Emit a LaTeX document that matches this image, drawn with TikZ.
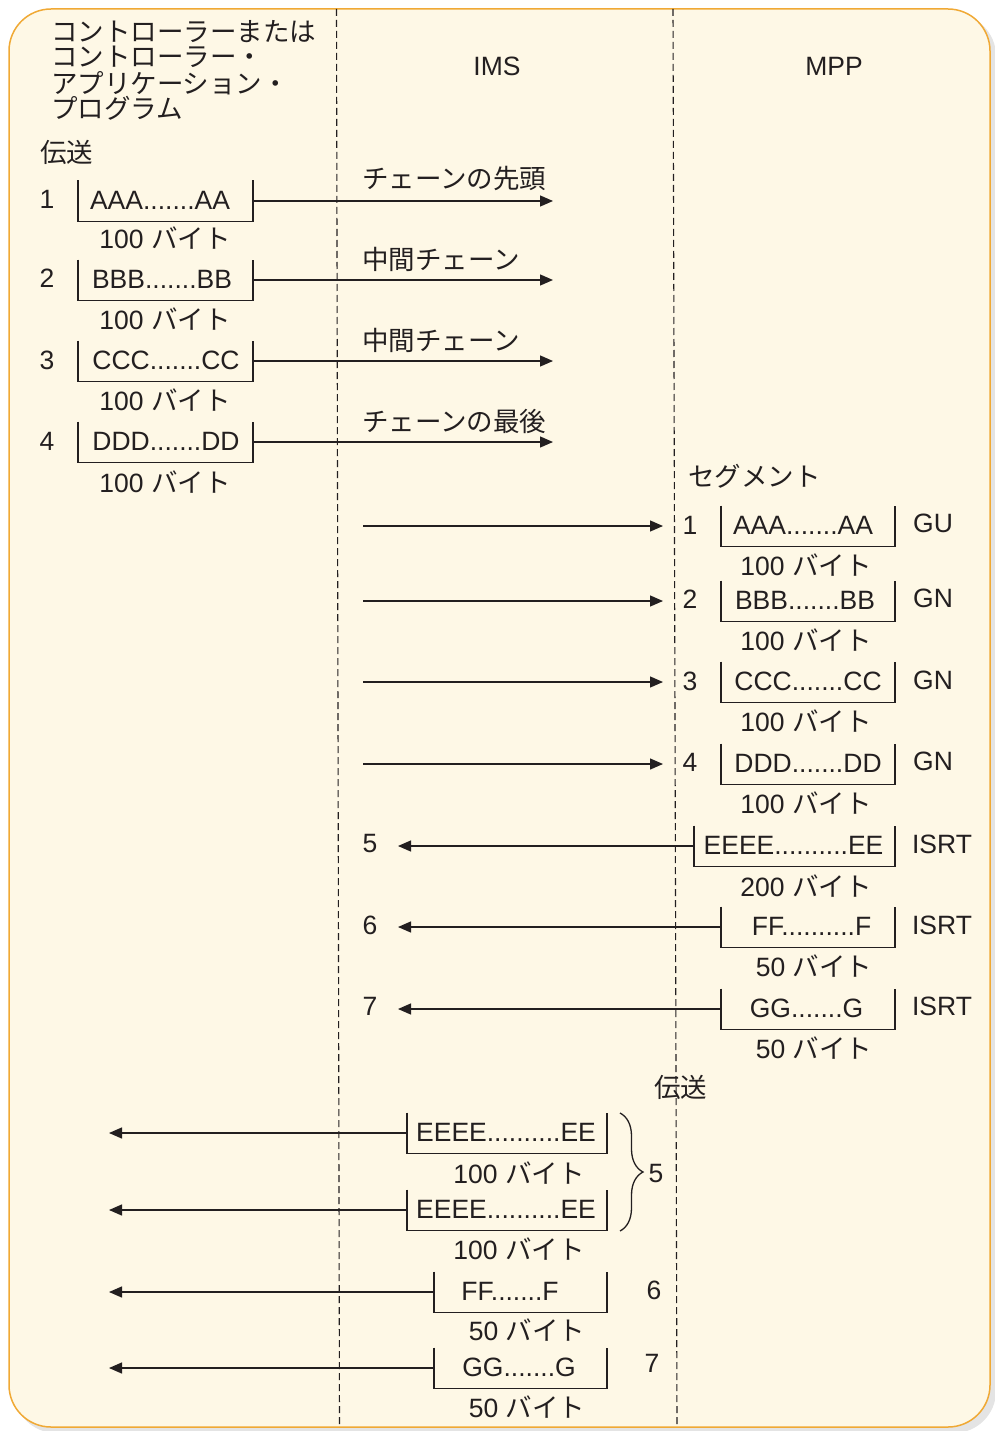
\documentclass[tikz,border=0pt]{standalone}
\usepackage{fontspec}
\setmainfont{Liberation Sans}
\newfontfamily\jp{Noto Sans CJK JP}
\usetikzlibrary{arrows.meta,decorations.pathreplacing}
\definecolor{bgfill}{HTML}{FEF8E6}
\definecolor{bgline}{HTML}{F0A935}
\definecolor{shadowc}{HTML}{E4E4E4}
\definecolor{ink}{HTML}{231F20}
\newcommand\drawseg[6]{%
  \node[segbox, minimum width={#3-#2}] (#1) at ({(#2+#3)/2},#4) {};
  \draw[bracket] (#1.north west) -- (#1.south west) -- (#1.south east) -- (#1.north east);
  \node (#1t) at (#6,#4-1) {#5};
}
\begin{document}
\begin{tikzpicture}[x=1pt,y=-1pt,
  every node/.style={font=\fontsize{26.5}{30}\selectfont, text=ink, inner sep=0pt, outer sep=0pt},
  jptext/.style={font=\fontsize{26.5}{30}\selectfont\jp},
  segbox/.style={draw=none, minimum height=41pt, inner sep=0pt, outer sep=0pt},
  bracket/.style={draw=ink, line width=1.3pt},
  arr/.style={draw=ink, line width=1.3pt, -{Triangle[length=13pt,width=11pt]}},
  lifeline/.style={draw=ink, line width=1.1pt, dash pattern=on 7pt off 4pt},
  bracestyle/.style={draw=ink, line width=1.3pt, decorate, decoration={brace, amplitude=23pt}},
]
\useasboundingbox (0,0) rectangle (994,1431);
% background
\fill[shadowc, rounded corners=42pt] (14,14) rectangle (996,1433);
\draw[bgline, fill=bgfill, line width=1.5pt, rounded corners=42pt] (9,9) rectangle (990,1427);
% lifelines
\coordinate (d1t) at (336.5,9);
\coordinate (d1b) at (339.5,1427);
\coordinate (d2t) at (673,9);
\coordinate (d2b) at (677,1427);
\draw[lifeline] (d1t) -- (d1b);
\draw[lifeline] (d2t) -- (d2b);
% headers
\node[jptext, anchor=west] (h1) at (51,32) {コントローラーまたは};
\node[jptext, anchor=west] (h2) at (51,57) {コントローラー・};
\node[jptext, anchor=west] (h3) at (51,83) {アプリケーション・};
\node[jptext, anchor=west] (h4) at (51,108) {プログラム};
\node (ims) at (497,66) {IMS};
\node (mpp) at (834,66) {MPP};
\node[jptext, anchor=west] (send1) at (40,152) {伝送};
% left column
\drawseg{L1}{78}{253}{201}{AAA.......AA}{160}
\node (n1) at (47,199) {1};
\node (s1) at (165,238) {100 {\jp バイト}};
\coordinate (L1e) at (553,201);
\draw[arr] (L1.east) -- (L1e);
\node[jptext, anchor=west] (c1) at (362,178) {チェーンの先頭};

\drawseg{L2}{78}{253}{280}{BBB.......BB}{162}
\node (n2) at (47,278) {2};
\node (s2) at (165,319) {100 {\jp バイト}};
\coordinate (L2e) at (553,280);
\draw[arr] (L2.east) -- (L2e);
\node[jptext, anchor=west] (c2) at (362,259) {中間チェーン};

\drawseg{L3}{78}{253}{361}{CCC.......CC}{166}
\node (n3) at (47,360) {3};
\node (s3) at (165,400) {100 {\jp バイト}};
\coordinate (L3e) at (553,361);
\draw[arr] (L3.east) -- (L3e);
\node[jptext, anchor=west] (c3) at (362,340) {中間チェーン};

\drawseg{L4}{78}{253}{442}{DDD.......DD}{166}
\node (n4) at (47,441) {4};
\node (s4) at (165,482) {100 {\jp バイト}};
\coordinate (L4e) at (553,442);
\draw[arr] (L4.east) -- (L4e);
\node[jptext, anchor=west] (c4) at (362,421) {チェーンの最後};

% MPP segments
\node[jptext, anchor=west] (segl) at (688,476) {セグメント};

\drawseg{M1}{721}{895}{526}{AAA.......AA}{803}
\node (m1n) at (690,525) {1};
\node (m1s) at (806,565) {100 {\jp バイト}};
\node (m1c) at (933,523) {GU};
\coordinate (M1s) at (363,526);
\coordinate (M1e) at (663,526);
\draw[arr] (M1s) -- (M1e);

\drawseg{M2}{721}{895}{601}{BBB.......BB}{805}
\node (m2n) at (690,599.5) {2};
\node (m2s) at (806,640) {100 {\jp バイト}};
\node (m2c) at (933,598) {GN};
\coordinate (M2s) at (363,601);
\coordinate (M2e) at (663,601);
\draw[arr] (M2s) -- (M2e);

\drawseg{M3}{721}{895}{682}{CCC.......CC}{808}
\node (m3n) at (690,681) {3};
\node (m3s) at (806,721) {100 {\jp バイト}};
\node (m3c) at (933,680) {GN};
\coordinate (M3s) at (363,682);
\coordinate (M3e) at (663,682);
\draw[arr] (M3s) -- (M3e);

\drawseg{M4}{721}{895}{764}{DDD.......DD}{808}
\node (m4n) at (690,762.5) {4};
\node (m4s) at (806,803) {100 {\jp バイト}};
\node (m4c) at (933,761) {GN};
\coordinate (M4s) at (363,764);
\coordinate (M4e) at (663,764);
\draw[arr] (M4s) -- (M4e);

% ISRT
\drawseg{I5}{694}{895}{846}{EEEE..........EE}{793.5}
\node (i5n) at (370,844) {5};
\node (i5s) at (806,886) {200 {\jp バイト}};
\node (i5c) at (942,844) {ISRT};
\coordinate (I5e) at (398,846);
\draw[arr] (I5.west) -- (I5e);

\drawseg{I6}{721}{895}{927}{FF..........F}{811.5}
\node (i6n) at (370,925) {6};
\node (i6s) at (814,966) {50 {\jp バイト}};
\node (i6c) at (942,925) {ISRT};
\coordinate (I6e) at (398,927);
\draw[arr] (I6.west) -- (I6e);

\drawseg{I7}{721}{895}{1009}{GG.......G}{806.5}
\node (i7n) at (370,1006) {7};
\node (i7s) at (814,1048) {50 {\jp バイト}};
\node (i7c) at (942,1006) {ISRT};
\coordinate (I7e) at (398,1009);
\draw[arr] (I7.west) -- (I7e);

% transmission back
\node[jptext, anchor=west] (send2) at (654,1087) {伝送};

\drawseg{T1}{407}{607}{1133}{EEEE..........EE}{506}
\node (t1s) at (519,1173) {100 {\jp バイト}};
\coordinate (T1e) at (109,1133);
\draw[arr] (T1.west) -- (T1e);

\drawseg{T2}{407}{607}{1210}{EEEE..........EE}{506}
\node (t2s) at (519,1249) {100 {\jp バイト}};
\coordinate (T2e) at (109,1210);
\draw[arr] (T2.west) -- (T2e);

\drawseg{T3}{434}{607}{1292}{FF.......F}{510}
\node (t3s) at (527,1330) {50 {\jp バイト}};
\coordinate (T3e) at (109,1292);
\draw[arr] (T3.west) -- (T3e);

\drawseg{T4}{434}{607}{1368}{GG.......G}{519}
\node (t4s) at (527,1407) {50 {\jp バイト}};
\coordinate (T4e) at (109,1368);
\draw[arr] (T4.west) -- (T4e);

\coordinate (brt) at (620,1113);
\coordinate (brb) at (620,1231);
\draw[bracestyle] (brt) -- (brb);
\node (g5) at (656,1173) {5};
\node (g6) at (654,1290) {6};
\node (g7) at (652,1363) {7};
\end{tikzpicture}
\end{document}
